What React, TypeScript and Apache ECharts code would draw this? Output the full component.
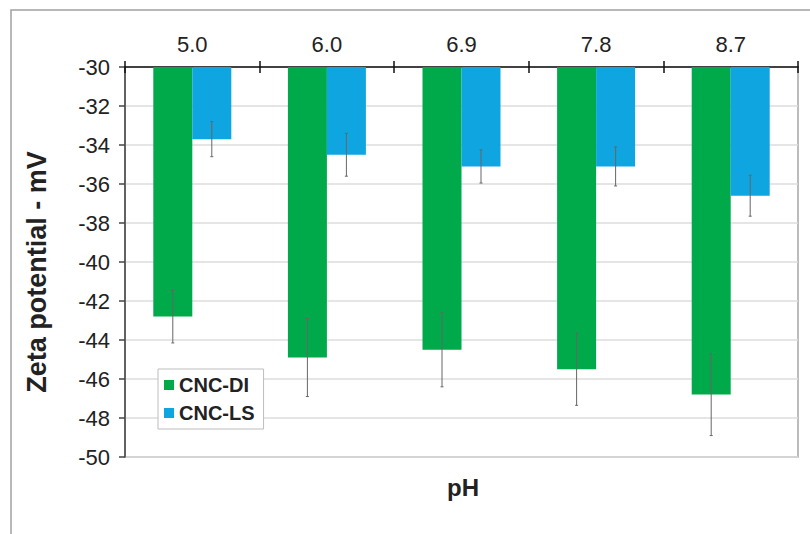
import React, { useEffect, useRef } from "react";
import * as echarts from "echarts";

const categories = ["5.0", "6.0", "6.9", "7.8", "8.7"];
const seriesNames = ["CNC-DI", "CNC-LS"];
const diValues = [-42.8, -44.9, -44.5, -45.5, -46.8];
const diErrors = [1.35, 2.0, 1.9, 1.85, 2.1];
const lsValues = [-33.7, -34.5, -35.1, -35.1, -36.6];
const lsErrors = [0.9, 1.1, 0.85, 1.0, 1.05];
const yTicks = [-50, -48, -46, -44, -42, -40, -38, -36, -34, -32, -30];

const GREEN = "#00AA4B";
const BLUE = "#0FA5E1";
const BAR_W = 39;

function errorSeries(values: number[], errors: number[], offset: number) {
  return {
    type: "custom",
    xAxisIndex: 0,
    yAxisIndex: 0,
    z: 10,
    clip: false,
    silent: true,
    data: values.map((v, i) => [i, v + errors[i], v - errors[i]]),
    renderItem: (params: any, api: any) => {
      const top = api.coord([api.value(0), api.value(1)]);
      const bot = api.coord([api.value(0), api.value(2)]);
      const x = top[0] + offset;
      const style = { stroke: "#666", lineWidth: 1 };
      return {
        type: "group",
        children: [
          { type: "line", shape: { x1: x, y1: top[1], x2: x, y2: bot[1] }, style },
          { type: "line", shape: { x1: x - 1.5, y1: top[1], x2: x + 1.5, y2: top[1] }, style },
          { type: "line", shape: { x1: x - 1.5, y1: bot[1], x2: x + 1.5, y2: bot[1] }, style },
        ],
      };
    },
  };
}

export default function App() {
  const ref = useRef<HTMLDivElement>(null);
  useEffect(() => {
    if (!ref.current) return;
    const chart = echarts.init(ref.current, undefined, { renderer: "svg" });
    const font = "'Liberation Sans', Arial, sans-serif";
    chart.setOption({
      animation: false,
      backgroundColor: "#ffffff",
      textStyle: { fontFamily: font },
      grid: {
        left: 125,
        right: 12,
        top: 67,
        bottom: 77,
        show: true,
        borderColor: "#a6a6a6",
        borderWidth: 1.5,
      },
      legend: {
        show: true,
        orient: "vertical",
        left: 158,
        top: 369,
        data: seriesNames,
        backgroundColor: "#ffffff",
        borderColor: "#bdbdbd",
        borderWidth: 1,
        padding: [6, 9, 6, 6],
        itemGap: 8,
        itemWidth: 10,
        itemHeight: 10,
        icon: "rect",
        textStyle: { fontFamily: font, fontSize: 20, fontWeight: "bold", color: "#222" },
      },
      xAxis: [
        {
          type: "category",
          position: "top",
          data: categories,
          axisLine: { show: true, lineStyle: { color: "#111", width: 1.5 } },
          axisTick: { show: true, inside: false, length: 6, lineStyle: { color: "#111", width: 1.5 } },
          axisLabel: { fontFamily: font, fontSize: 22, color: "#222", margin: 12 },
          splitLine: { show: false },
        },
        {
          type: "category",
          position: "top",
          data: categories,
          axisLine: { show: false },
          axisTick: { show: true, inside: true, length: 6, lineStyle: { color: "#111", width: 1.5 } },
          axisLabel: { show: false },
          splitLine: { show: false },
        },
      ],
      yAxis: {
        type: "value",
        min: yTicks[0],
        max: yTicks[yTicks.length - 1],
        interval: 2,
        axisLine: { show: true, lineStyle: { color: "#444", width: 1.5 } },
        axisTick: { show: true, inside: false, length: 6, lineStyle: { color: "#444", width: 1.5 } },
        axisLabel: { fontFamily: font, fontSize: 22, color: "#222", margin: 15 },
        splitLine: { show: true, lineStyle: { color: "#dcdcdc", width: 1.5 } },
      },
      graphic: [
        {
          type: "rect",
          shape: { x: 11, y: 10, width: 830, height: 560 },
          style: { fill: "none", stroke: "#a0a0a0", lineWidth: 1.5 },
          silent: true,
          z: -10,
        },
        {
          type: "text",
          x: 37,
          y: 272,
          rotation: Math.PI / 2,
          style: {
            text: "Zeta potential - mV",
            fontFamily: font,
            fontSize: 27,
            fontWeight: "bold",
            fill: "#222",
            align: "center",
            verticalAlign: "middle",
          },
        },
        {
          type: "text",
          x: 463,
          y: 487,
          style: {
            text: "pH",
            fontFamily: font,
            fontSize: 24,
            fontWeight: "bold",
            fill: "#222",
            align: "center",
            verticalAlign: "middle",
          },
        },
      ],
      series: [
        {
          name: seriesNames[0],
          type: "bar",
          data: diValues,
          barWidth: BAR_W,
          barGap: "0%",
          itemStyle: { color: GREEN },
          clip: true,
        },
        {
          name: seriesNames[1],
          type: "bar",
          data: lsValues,
          barWidth: BAR_W,
          barGap: "0%",
          itemStyle: { color: BLUE },
          clip: true,
        },
        errorSeries(diValues, diErrors, -BAR_W / 2),
        errorSeries(lsValues, lsErrors, BAR_W / 2),
      ],
    });
    return () => chart.dispose();
  }, []);
  return (
    <div
      ref={ref}
      style={{ position: "absolute", left: 0, top: 0, width: 810, height: 534 }}
    />
  );
}
